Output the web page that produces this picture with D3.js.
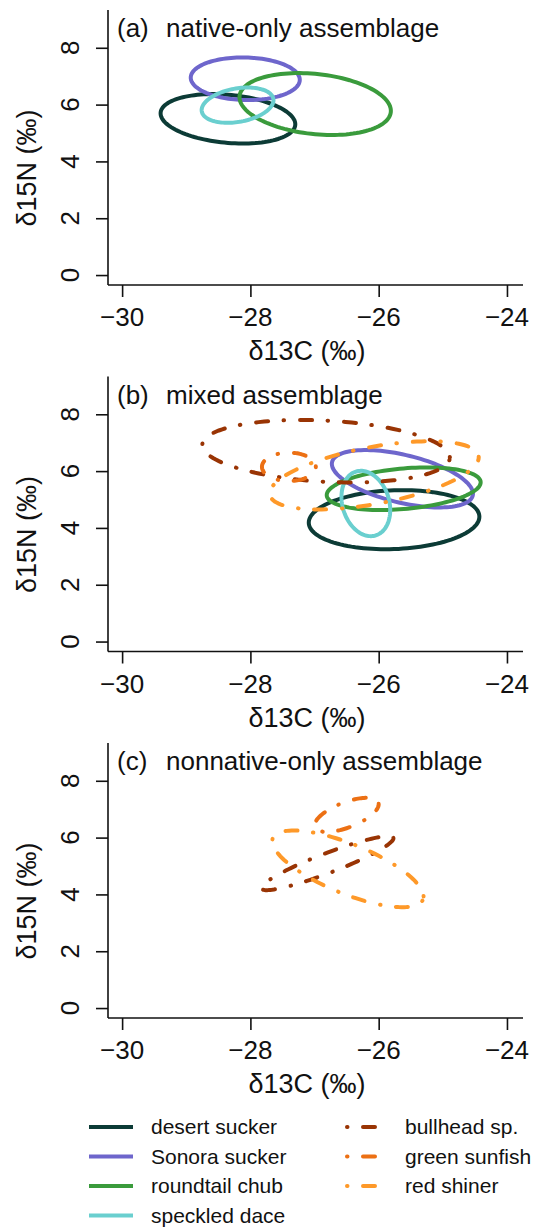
<!DOCTYPE html>
<html>
<head>
<meta charset="utf-8">
<script src="https://cdn.jsdelivr.net/npm/d3@7"></script>
<style>
  body { margin: 0; background: #fff; }
  svg text { font-family: "Liberation Sans", Arial, sans-serif; fill: #111; }
  .axis path, .axis line { stroke: #111; stroke-width: 1.6; }
</style>
</head>
<body>
<div id="vis"></div>
<script>
// species and panel labels
var species = ['desert sucker', 'Sonora sucker', 'roundtail chub', 'speckled dace',
               'bullhead sp.', 'green sunfish', 'red shiner'];
var panelTags = ['(a)', '(b)', '(c)'];
var panelNames = ['native-only assemblage', 'mixed assemblage', 'nonnative-only assemblage'];
var xTicks = [-30, -28, -26, -24];
var yTicks = [0, 2, 4, 6, 8];

// standard ellipses: centre (d13C, d15N), half-widths in permil, tilt (-1..1)
var nativeOnly = [
    {sp: 'desert sucker',  cx: -28.35, cy: 5.50, rx: 1.05, ry: 0.87, tilt: -0.22},
    {sp: 'Sonora sucker',  cx: -28.08, cy: 6.91, rx: 0.85, ry: 0.75, tilt: -0.05},
    {sp: 'roundtail chub', cx: -26.99, cy: 6.02, rx: 1.18, ry: 1.09, tilt: -0.22},
    {sp: 'speckled dace',  cx: -28.20, cy: 5.98, rx: 0.56, ry: 0.62, tilt: 0.28}
];
var mixed = [
    {sp: 'desert sucker',  cx: -25.76, cy: 4.29, rx: 1.33, ry: 1.04, tilt: 0.10},
    {sp: 'Sonora sucker',  cx: -25.63, cy: 5.73, rx: 1.10, ry: 1.01, tilt: -0.52},
    {sp: 'roundtail chub', cx: -25.61, cy: 5.38, rx: 1.20, ry: 0.75, tilt: 0.30},
    {sp: 'speckled dace',  cx: -26.20, cy: 4.86, rx: 0.38, ry: 1.15, tilt: -0.20},
    {sp: 'bullhead sp.',   cx: -26.82, cy: 6.70, rx: 1.93, ry: 1.10, tilt: -0.20},
    {sp: 'green sunfish',  cx: -27.40, cy: 6.15, rx: 0.42, ry: 0.50, tilt: 0.00},
    {sp: 'red shiner',     cx: -26.07, cy: 5.85, rx: 1.63, ry: 1.20, tilt: 0.53}
];
var nonnativeOnly = [
    {sp: 'bullhead sp.',   cx: -26.80, cy: 5.10, rx: 1.03, ry: 0.95, tilt: 0.92},
    {sp: 'green sunfish',  cx: -26.50, cy: 6.80, rx: 0.50, ry: 0.60, tilt: 0.62},
    {sp: 'red shiner',     cx: -26.48, cy: 4.90, rx: 1.18, ry: 1.35, tilt: -0.72}
];
var panelData = [nativeOnly, mixed, nonnativeOnly];

var colors = {
    'desert sucker': '#0c3b36',
    'Sonora sucker': '#6e66cc',
    'roundtail chub': '#3a9b3c',
    'speckled dace': '#6acfcf',
    'bullhead sp.': '#993404',
    'green sunfish': '#ec7014',
    'red shiner': '#fe9929'
};
var nonnative = ['bullhead sp.', 'green sunfish', 'red shiner'];
var dotDash = '0.5 15.5 12 16';

var width = 535, height = 1228;
var margin = {left: 108, right: 12, top: 10};
var plotH = 275;
var panelStep = 366.5;

var svg = d3.select('#vis').append('svg')
    .attr('width', width)
    .attr('height', height);

var xScale = d3.scaleLinear().domain([-30.22, -23.75]).range([margin.left, width - margin.right]);
var fmt = d3.format('d');

var ellipsePoints = function(e) {
    var phi = Math.asin(e.tilt);
    return d3.range(0, 361, 3).map(function(deg) {
        var t = deg * Math.PI / 180;
        return [e.cx + e.rx * Math.cos(t), e.cy + e.ry * Math.sin(t + phi)];
    });
};

panelData.forEach(function(data, i) {
    var top = margin.top + i * panelStep;
    var bottom = top + plotH;
    var yScale = d3.scaleLinear().domain([-0.35, 9.33]).range([bottom, top]);

    var g = svg.append('g');

    var xAxis = g.append('g')
        .attr('class', 'axis')
        .attr('transform', 'translate(0,' + bottom + ')')
        .call(d3.axisBottom(xScale).tickValues(xTicks).tickSize(12).tickSizeOuter(0).tickFormat(''));
    xAxis.select('.domain').attr('d', 'M' + margin.left + ',0H' + (width - margin.right));

    var yAxis = g.append('g')
        .attr('class', 'axis')
        .attr('transform', 'translate(' + margin.left + ',0)')
        .call(d3.axisLeft(yScale).tickValues(yTicks).tickSize(12).tickSizeOuter(0).tickFormat(''));
    yAxis.select('.domain').attr('d', 'M0,' + bottom + 'V' + top);

    // tick labels
    g.selectAll('text.xlab')
        .data(xTicks)
        .enter().append('text')
        .attr('class', 'xlab')
        .attr('x', d => xScale(d))
        .attr('y', bottom + 32)
        .attr('dy', '0.36em')
        .attr('text-anchor', 'middle')
        .style('font-size', '26px')
        .text(d => fmt(d));

    g.selectAll('text.ylab')
        .data(yTicks)
        .enter().append('text')
        .attr('class', 'ylab')
        .attr('transform', d => 'translate(70,' + yScale(d) + ') rotate(-90)')
        .attr('dy', '0.36em')
        .attr('text-anchor', 'middle')
        .style('font-size', '26px')
        .text(d => fmt(d));

    g.append('text')
        .attr('x', 307)
        .attr('y', bottom + 66)
        .attr('dy', '0.35em')
        .attr('text-anchor', 'middle')
        .style('font-size', '27px')
        .text('δ13C (‰)');

    g.append('text')
        .attr('transform', 'translate(27,' + (top + 158) + ') rotate(-90)')
        .attr('dy', '0.35em')
        .attr('text-anchor', 'middle')
        .style('font-size', '27px')
        .text('δ15N (‰)');

    g.append('text')
        .attr('x', 117)
        .attr('y', top + 27)
        .style('font-size', '26px')
        .text(panelTags[i]);
    g.append('text')
        .attr('x', 166)
        .attr('y', top + 27)
        .style('font-size', '26px')
        .text(panelNames[i]);

    var line = d3.line()
        .x(function(d) { return xScale(d[0]); })
        .y(function(d) { return yScale(d[1]); })
        .curve(d3.curveLinearClosed);

    g.selectAll('path.ellipse')
        .data(data)
        .enter().append('path')
        .attr('class', 'ellipse')
        .attr('d', function(d) { return line(ellipsePoints(d)); })
        .attr('fill', 'none')
        .attr('stroke', function(d) { return colors[d.sp]; })
        .attr('stroke-width', 4)
        .attr('stroke-linecap', 'round')
        .attr('stroke-dasharray', function(d) { return nonnative.indexOf(d.sp) >= 0 ? dotDash : null; });
});

// legend
var legend = svg.append('g');
var rows = legend.selectAll('g')
    .data(species)
    .enter().append('g')
    .attr('transform', function(d, i) {
        var isNon = nonnative.indexOf(d) >= 0;
        var row = isNon ? i - 4 : i;
        return 'translate(' + (isNon ? 347 : 89) + ',' + (1127 + row * 29.5) + ')';
    });
rows.append('line')
    .attr('x1', 0)
    .attr('x2', function(d) { return nonnative.indexOf(d) >= 0 ? 29 : 44; })
    .attr('stroke', function(d) { return colors[d]; })
    .attr('stroke-width', 4)
    .attr('stroke-linecap', function(d) { return nonnative.indexOf(d) >= 0 ? 'round' : 'butt'; })
    .attr('stroke-dasharray', function(d) { return nonnative.indexOf(d) >= 0 ? dotDash : null; });
rows.append('text')
    .attr('x', function(d) { return nonnative.indexOf(d) >= 0 ? 58 : 62; })
    .attr('dy', '0.35em')
    .style('font-size', '21px')
    .text(function(d) { return d; });
</script>
</body>
</html>
